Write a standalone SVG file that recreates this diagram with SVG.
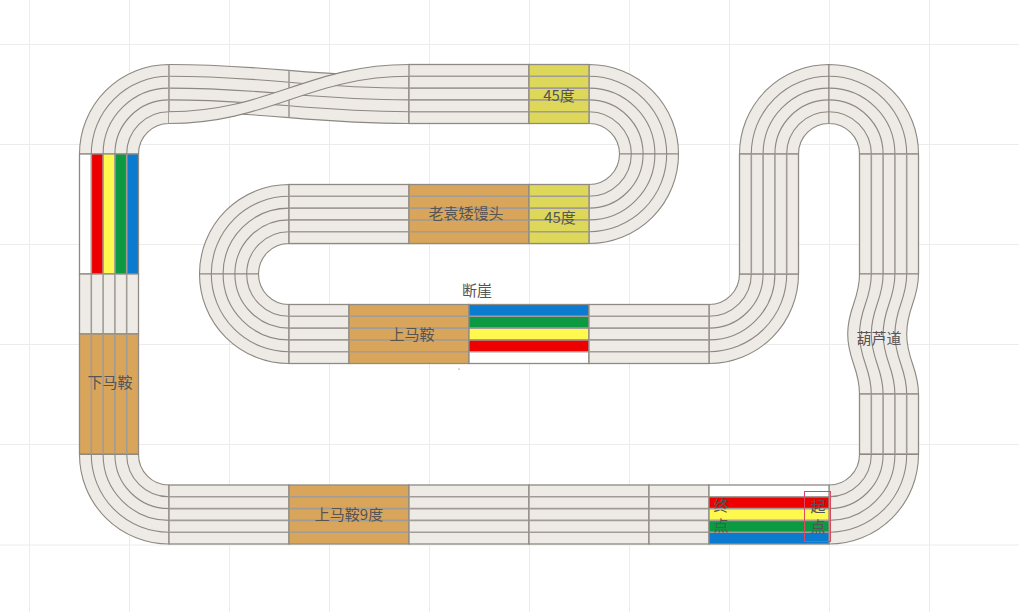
<svg xmlns="http://www.w3.org/2000/svg" width="1019" height="612" viewBox="0 0 1019 612">
<style>
.grid line{stroke:#ececec;stroke-width:1}
.t{fill:#eeeae5}
.l,.b{stroke:#8d8881;stroke-width:1.1}
.l{fill:none}
.sep{stroke:#a19c95;stroke-width:1.6;fill:none}
.edge{stroke:#8f8a83;stroke-width:1.3}
.tan{fill:#d9a55b}
.yel{fill:#ddd85a}
text{font-family:"Noto Sans CJK SC","Noto Sans",sans-serif;font-size:15px;fill:#555;text-anchor:middle}
</style>
<defs>
<g id="q">
<path class="t b" d="M-89.5 0A89.5 89.5 0 0 1 0 -89.5V-30.5A30.5 30.5 0 0 0 -30.5 0Z"/>
<path class="l" d="M-77.7 0A77.7 77.7 0 0 1 0 -77.7M-65.9 0A65.9 65.9 0 0 1 0 -65.9M-54.1 0A54.1 54.1 0 0 1 0 -54.1M-42.3 0A42.3 42.3 0 0 1 0 -42.3"/>
</g>
<path id="hl120" class="sep" d="M0 11.8H120M0 23.6H120M0 35.4H120M0 47.2H120"/>
<path id="hl60" class="sep" d="M0 11.8H60M0 23.6H60M0 35.4H60M0 47.2H60"/>
<path id="vl120" class="sep" d="M11.8 0V120M23.6 0V120M35.4 0V120M47.2 0V120"/>
<path id="vl60" class="sep" d="M11.8 0V60M23.6 0V60M35.4 0V60M47.2 0V60"/>
<g id="h120"><rect width="120" height="59" class="edge"/><use href="#hl120"/></g>
<g id="h60"><rect width="60" height="59" class="edge"/><use href="#hl60"/></g>
<g id="v120"><rect width="59" height="120" class="edge"/><use href="#vl120"/></g>
<g id="v60"><rect width="59" height="60" class="edge"/><use href="#vl60"/></g>
</defs>
<g id="grid" class="grid">
<line x1="29.5" y1="0" x2="29.5" y2="612"/><line x1="129.5" y1="0" x2="129.5" y2="612"/><line x1="229.5" y1="0" x2="229.5" y2="612"/><line x1="329.5" y1="0" x2="329.5" y2="612"/><line x1="429.5" y1="0" x2="429.5" y2="612"/><line x1="529.5" y1="0" x2="529.5" y2="612"/><line x1="629.5" y1="0" x2="629.5" y2="612"/><line x1="729.5" y1="0" x2="729.5" y2="612"/><line x1="829.5" y1="0" x2="829.5" y2="612"/><line x1="929.5" y1="0" x2="929.5" y2="612"/>
<line x1="0" y1="44.5" x2="1019" y2="44.5"/><line x1="0" y1="144.5" x2="1019" y2="144.5"/><line x1="0" y1="244.5" x2="1019" y2="244.5"/><line x1="0" y1="344.5" x2="1019" y2="344.5"/><line x1="0" y1="444.5" x2="1019" y2="444.5"/><line x1="0" y1="545" x2="1019" y2="545"/>
</g>
<g id="curves">
<use href="#q" transform="translate(169 154)"/>
<use href="#q" transform="translate(589 154) rotate(90)"/>
<use href="#q" transform="translate(589 154) rotate(180)"/>
<use href="#q" transform="translate(289 274)"/>
<use href="#q" transform="translate(289 274) rotate(-90)"/>
<use href="#q" transform="translate(709 274) rotate(180)"/>
<use href="#q" transform="translate(829 154)"/>
<use href="#q" transform="translate(829 154) rotate(90)"/>
<use href="#q" transform="translate(829 454.5) rotate(180)"/>
<use href="#q" transform="translate(169 454.5) rotate(-90)"/>
</g>
<g id="crossing">
<path class="t" d="M169 64.5C269 64.5 309 76.3 409 76.3V123.5C309 123.5 269 111.7 169 111.7Z"/>
<path class="l" d="M169 64.5C269 64.5 309 76.3 409 76.3M169 76.3C269 76.3 309 88.1 409 88.1M169 88.1C269 88.1 309 99.9 409 99.9M169 99.9C269 99.9 309 111.7 409 111.7M169 111.7C269 111.7 309 123.5 409 123.5"/>
<path class="sep" d="M169 64.5V123.5M289 70.4V117.6M409 64.5V123.5"/>
<path class="t" d="M169 111.7C269 111.7 309 64.5 409 64.5V76.3C309 76.3 269 123.5 169 123.5Z"/>
<path class="l" d="M169 111.7C269 111.7 309 64.5 409 64.5M169 123.5C269 123.5 309 76.3 409 76.3"/>
</g>
<g id="top-straight">
<use href="#h120" x="409" y="64.5" class="t"/>
<g id="slope-45-top"><use href="#h60" x="529" y="64.5" class="yel"/><text x="559" y="101">45度</text></g>
</g>
<g id="row-2">
<use href="#h120" x="289" y="184.5" class="t"/>
<g id="laoyuan"><use href="#h120" x="409" y="184.5" class="tan"/><text x="466" y="219">老袁矮馒头</text></g>
<g id="slope-45-bottom"><use href="#h60" x="529" y="184.5" class="yel"/><text x="560" y="223">45度</text></g>
</g>
<g id="row-3">
<use href="#h60" x="289" y="304.5" class="t"/>
<g id="shangmaan"><use href="#h120" x="349" y="304.5" class="tan"/><text x="412" y="340">上马鞍</text></g>
<g id="cliff">
<rect x="469" y="304.5" width="120" height="59" fill="#fff"/>
<rect x="469" y="304.5" width="120" height="11.8" fill="#0b7bd0"/>
<rect x="469" y="316.3" width="120" height="11.8" fill="#0b9a41"/>
<rect x="469" y="328.1" width="120" height="11.8" fill="#fff94f"/>
<rect x="469" y="339.9" width="120" height="11.8" fill="#ee0000"/>
<path class="sep" d="M469 316.3H589M469 328.1H589M469 339.9H589M469 351.7H589"/>
<rect x="469" y="304.5" width="120" height="59" fill="none" class="edge"/>
<text x="477" y="296">断崖</text>
</g>
<use href="#h120" x="589" y="304.5" class="t"/>
<circle cx="459" cy="369" r="0.6" fill="#555"/>
</g>
<g id="climb"><use href="#v120" x="739.5" y="154" class="t"/></g>
<g id="right-side">
<use href="#v120" x="859.5" y="154" class="t"/>
<g id="hulu">
<path class="t b" d="M859.5 274C859.5 300 847.7 308 847.7 334C847.7 360 859.5 368 859.5 394H918.5C918.5 368 906.7 360 906.7 334C906.7 308 918.5 300 918.5 274Z"/>
<path class="l" d="M871.3 274C871.3 300 859.5 308 859.5 334C859.5 360 871.3 368 871.3 394M883.1 274C883.1 300 871.3 308 871.3 334C871.3 360 883.1 368 883.1 394M894.9 274C894.9 300 883.1 308 883.1 334C883.1 360 894.9 368 894.9 394M906.7 274C906.7 300 894.9 308 894.9 334C894.9 360 906.7 368 906.7 394"/>
<text x="879" y="344">葫芦道</text>
</g>
<use href="#v60" x="859.5" y="394" class="t"/>
</g>
<g id="left-side">
<g id="left-colors">
<rect x="79.5" y="154" width="59" height="120" fill="#fff"/>
<rect x="91.3" y="154" width="11.8" height="120" fill="#ee0000"/>
<rect x="103.1" y="154" width="11.8" height="120" fill="#fff94f"/>
<rect x="114.9" y="154" width="11.8" height="120" fill="#0b9a41"/>
<rect x="126.7" y="154" width="11.8" height="120" fill="#0b7bd0"/>
<use href="#vl120" x="79.5" y="154"/>
<rect x="79.5" y="154" width="59" height="120" fill="none" class="edge"/>
</g>
<use href="#v60" x="79.5" y="274" class="t"/>
<g id="xiamaan"><use href="#v120" x="79.5" y="334" class="tan"/><text x="110" y="388">下马鞍</text></g>
</g>
<g id="bottom-row">
<use href="#h120" x="169" y="485" class="t"/>
<g id="shangmaan-9"><use href="#h120" x="289" y="485" class="tan"/><text x="349" y="520">上马鞍9度</text></g>
<use href="#h120" x="409" y="485" class="t"/>
<use href="#h120" x="529" y="485" class="t"/>
<use href="#h60" x="649" y="485" class="t"/>
<g id="start-finish">
<rect x="709" y="485" width="120" height="59" fill="#fff"/>
<rect x="709" y="496.8" width="120" height="11.8" fill="#ee0000"/>
<rect x="709" y="508.6" width="120" height="11.8" fill="#fff94f"/>
<rect x="709" y="520.4" width="120" height="11.8" fill="#0b9a41"/>
<rect x="709" y="532.2" width="120" height="11.8" fill="#0b7bd0"/>
<path class="sep" d="M709 496.8H829M709 508.6H829M709 520.4H829M709 532.2H829"/>
<rect x="709" y="485" width="120" height="59" fill="none" class="edge"/>
<text x="721" y="511">终</text><text x="721" y="531">点</text>
<text x="818" y="512">起</text><text x="818" y="532">点</text>
<rect x="804.5" y="491.5" width="26" height="50" fill="none" stroke="#d94a60"/>
</g>
</g>
</svg>
